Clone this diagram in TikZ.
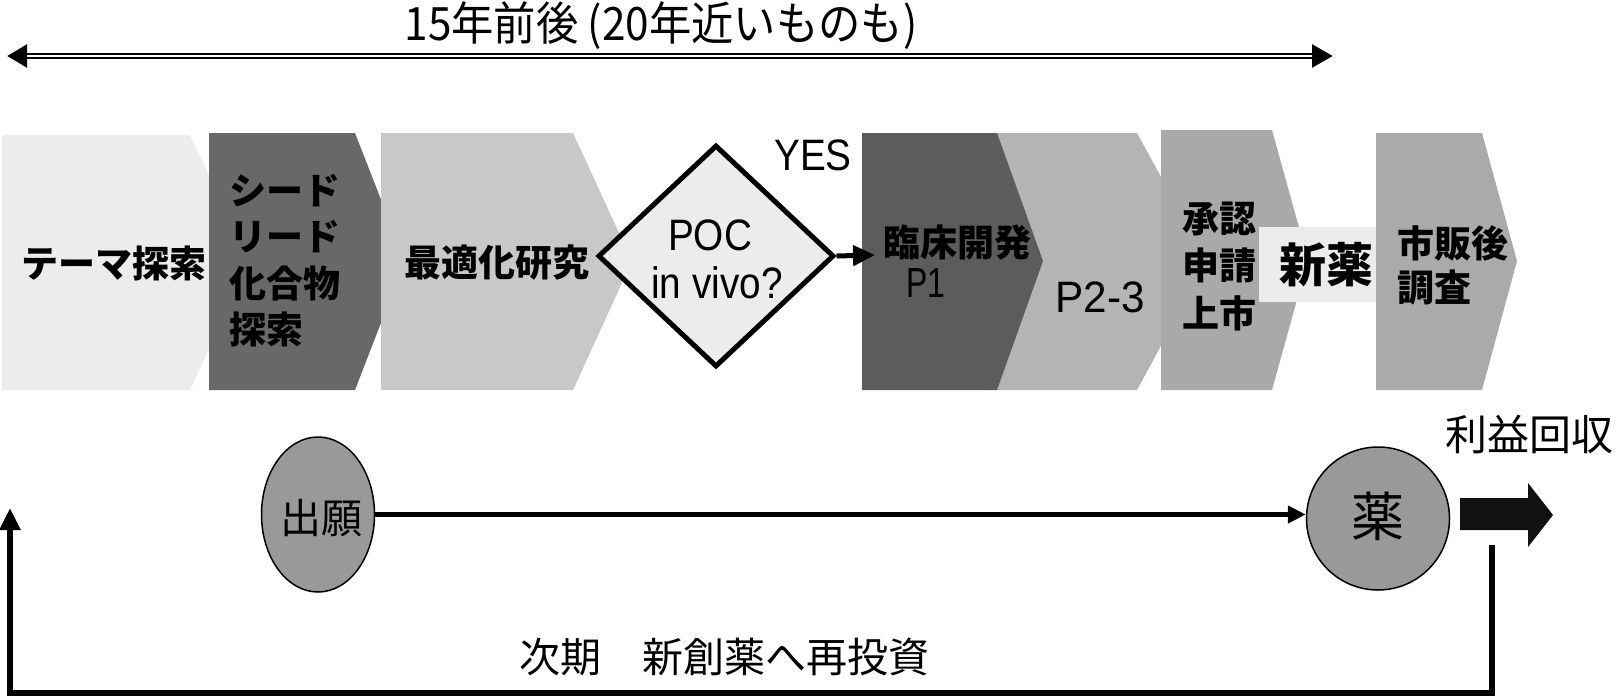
\documentclass[tikz,border=0pt]{standalone}
\usepackage{fontspec}
\usepackage{graphicx}
\setmainfont{Liberation Sans}
\newfontfamily\jp{Noto Sans CJK JP}
\usetikzlibrary{shapes.geometric,arrows.meta}
\definecolor{cLight}{HTML}{ECECEC}
\definecolor{cDarkA}{HTML}{686868}
\definecolor{cMid}{HTML}{C8C8C8}
\definecolor{cDarkB}{HTML}{5C5C5C}
\definecolor{cPtt}{HTML}{B4B4B4}
\definecolor{cApp}{HTML}{A9A9A9}
\definecolor{cPost}{HTML}{AAAAAA}
\definecolor{cOval}{HTML}{999999}
\definecolor{cBlk}{HTML}{111111}
\newcommand{\narrowtxt}[2][0.88]{\scalebox{#1}[1]{#2}}
\begin{document}
\begin{tikzpicture}[x=1pt,y=-1pt,
  jpbold/.style={font=\jp\bfseries\fontsize{37}{46.5}\selectfont, inner sep=0pt, align=left},
  jpreg/.style={font=\jp\fontsize{41}{41}\selectfont, inner sep=0pt},
  latin/.style={font=\fontsize{44}{46}\selectfont, inner sep=0pt},
  conn/.style={line width=5pt, -{Triangle[length=18pt,width=17pt]}},
  loopline/.style={line width=6pt, line join=miter, -{Triangle[length=22pt,width=20pt]}}
]
\useasboundingbox (0,0) rectangle (1619,696);

% top double arrow
\coordinate (topL) at (7,56);
\coordinate (topR) at (1333,56);
\draw[line width=6pt, {Triangle[length=20pt,width=22pt]}-{Triangle[length=21pt,width=22pt]}] (topL) -- (topR);
\draw[white, line width=1.8pt, shorten <=20pt, shorten >=21pt] (topL) -- (topR);
\node[font=\jp\fontsize{46}{46}\selectfont, inner sep=0pt] (span) at (661,26) {\narrowtxt[0.92]{15年前後 (20年近いものも)}};

% chevrons, left part
\fill[cLight] (2,135) -- (190,135) -- (250,262) -- (190,390) -- (2,390) -- cycle;
\fill[cDarkA] (209,133) -- (355,133) -- (405,261) -- (355,390) -- (209,390) -- cycle;
\fill[cMid] (381,133) -- (573,133) -- (632,261) -- (573,390) -- (381,390) -- cycle;

% diamond
\node[diamond, draw, line width=5pt, fill=cLight, minimum width=236pt, minimum height=222pt, inner sep=0pt] (poc) at (716,256) {};

% clinical chevrons
\fill[cPtt] (990,133) -- (1137,133) -- (1207,261) -- (1137,390) -- (990,390) -- cycle;
\fill[cDarkB] (862,133) -- (997,133) -- (1043,261) -- (997,390) -- (862,390) -- cycle;
\fill[cApp] (1161,130) -- (1272,130) -- (1308,260) -- (1272,390) -- (1161,390) -- cycle;
\node[fill=cLight, minimum width=118pt, minimum height=75pt, inner sep=0pt] (shinyaku) at (1318,264.5) {};
\fill[cPost] (1376,133) -- (1482,133) -- (1517,261) -- (1482,390) -- (1376,390) -- cycle;

% texts in chevrons
\node[jpbold] (theme) at (114,263) {テーマ探索};
\node[jpbold, anchor=west] (seed) at (229,260.5) {シード\\リード\\化合物\\探索};
\node[jpbold] (opt) at (497,263) {最適化研究};
\node[latin] (poct) at (710,235) {\narrowtxt{POC}};
\node[latin] (vivo) at (717,283) {\narrowtxt{in vivo?}};
\node[latin] (yes) at (813,155) {\narrowtxt{YES}};
\node[jpbold] (clin) at (957,242) {臨床開発};
\node[latin, font=\fontsize{42}{44}\selectfont] (pone) at (926,283) {\narrowtxt[0.76]{P1}};
\node[latin] (ptt) at (1100,297) {\narrowtxt[0.96]{P2-3}};
\node[jpbold, anchor=west, font=\jp\bfseries\fontsize{37}{47.5}\selectfont] (appr) at (1182,266) {承認\\申請\\上市};
\node[font=\jp\bfseries\fontsize{47}{47}\selectfont, inner sep=0pt] (shinyakut) at (1326,265) {新薬};
\node[jpbold, anchor=west, font=\jp\bfseries\fontsize{37}{44}\selectfont] (post) at (1397,265) {市販後\\調査};

% yes arrow
\coordinate (clinin) at (875,255);
\draw[line width=5pt, -{Triangle[length=22pt,width=20pt]}] (poc.east) -- (clinin);

% lower part
\node[ellipse, draw, line width=1.5pt, fill=cOval, minimum width=113pt, minimum height=155pt, inner sep=0pt] (shutsugan) at (318,514.5) {};
\node[jpreg] (shutsugant) at (321,518) {出願};
\node[circle, draw, line width=1.5pt, fill=cOval, minimum size=143pt, inner sep=0pt] (kusuri) at (1378,518.5) {};
\node[font=\jp\fontsize{53}{53}\selectfont, inner sep=0pt] (kusurit) at (1378,516) {薬};
\draw[conn] (shutsugan.east) -- (shutsugan.east -| kusuri.west);

\fill[cBlk] (1460,498) -- (1528,498) -- (1528,483) -- (1553,515) -- (1528,547) -- (1528,530) -- (1460,530) -- cycle;
\node[font=\jp\fontsize{42}{42}\selectfont, inner sep=0pt] (rieki) at (1529,435) {利益回収};

\coordinate (fbstart) at (1492,545);
\coordinate (fbcorner) at (1492,693);
\coordinate (fbbottom) at (10,693);
\coordinate (fbend) at (10,508);
\draw[loopline] (fbstart) -- (fbcorner) -- (fbbottom) -- (fbend);
\node[jpreg] (reinvest) at (724,657) {次期　新創薬へ再投資};
\end{tikzpicture}
\end{document}
